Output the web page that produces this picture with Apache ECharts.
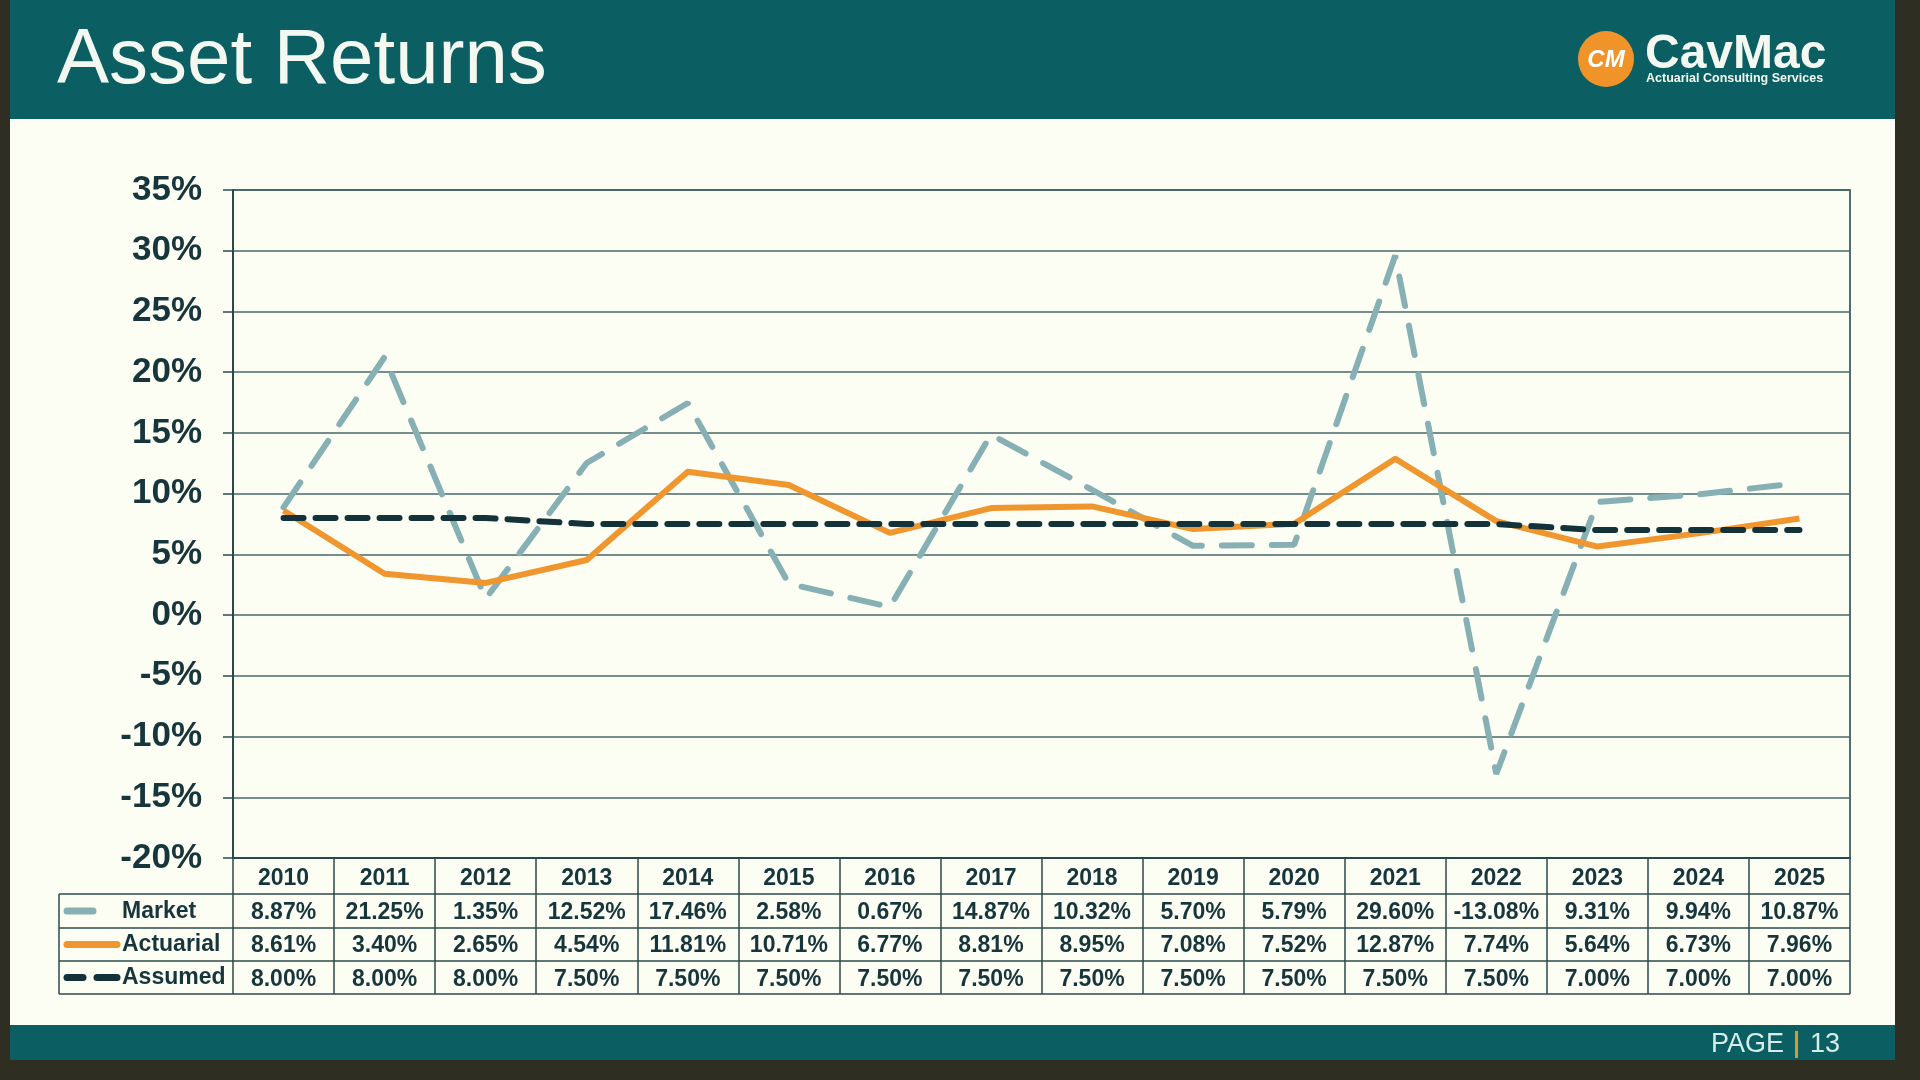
<!DOCTYPE html>
<html>
<head>
    <meta charset="utf-8">
    <title>Asset Returns</title>
    <script src="https://cdn.jsdelivr.net/npm/echarts@6/dist/echarts.min.js"></script>
    <style>
        html, body { margin: 0; padding: 0; background: #2f2e22; }
    </style>
</head>
<body>
<div id="chart-container" style="width: 1920px; height: 1080px;"></div>
<script>
    // data
    var years = ['2010', '2011', '2012', '2013', '2014', '2015', '2016', '2017',
                 '2018', '2019', '2020', '2021', '2022', '2023', '2024', '2025'];
    var market = [8.87, 21.25, 1.35, 12.52, 17.46, 2.58, 0.67, 14.87,
                  10.32, 5.70, 5.79, 29.60, -13.08, 9.31, 9.94, 10.87];
    var actuarial = [8.61, 3.40, 2.65, 4.54, 11.81, 10.71, 6.77, 8.81,
                     8.95, 7.08, 7.52, 12.87, 7.74, 5.64, 6.73, 7.96];
    var assumed = [8.00, 8.00, 8.00, 7.50, 7.50, 7.50, 7.50, 7.50,
                   7.50, 7.50, 7.50, 7.50, 7.50, 7.00, 7.00, 7.00];
    var seriesNames = ['Market', 'Actuarial', 'Assumed'];
    var yMin = -20, yMax = 35, yStep = 5;

    var teal = '#0b5f63';
    var ink = '#17363c';
    var marketColor = '#86b0b3';
    var actuarialColor = '#f0962e';
    var assumedColor = '#14323a';
    var font = '"Liberation Sans", Arial, sans-serif';

    function pct(v) { return v.toFixed(2) + '%'; }

    // table grid and row labels (decoration around the axis)
    var tableLeft = 59, tableRight = 1850;
    var rowLines = [894, 928, 961, 994];
    var rowCenters = [912, 945, 978];

    var graphics = [
        // slide panels
        { type: 'rect', z: -10, shape: { x: 10, y: 0, width: 1885, height: 1060 }, style: { fill: '#fcfdf3' } },
        { type: 'rect', z: -9, shape: { x: 10, y: 0, width: 1885, height: 119 }, style: { fill: teal } },
        { type: 'rect', z: -9, shape: { x: 10, y: 1025, width: 1885, height: 35 }, style: { fill: teal } },
        // title
        { type: 'text', left: 57, top: 22, style: { text: 'Asset Returns', fill: '#f3f8f0', font: '78px ' + font } },
        // logo
        { type: 'circle', shape: { cx: 1606, cy: 59, r: 28 }, style: { fill: '#f0942a' } },
        { type: 'text', x: 1606, y: 60, style: { text: 'CM', fill: '#ffffff', font: 'italic bold 24px ' + font, align: 'center', verticalAlign: 'middle' } },
        { type: 'text', x: 1645, y: 55, style: { text: 'CavMac', fill: '#f3f8f0', font: 'bold 48px ' + font, verticalAlign: 'middle' } },
        { type: 'text', x: 1646, y: 79, style: { text: 'Actuarial Consulting Services', fill: '#f3f8f0', font: 'bold 12.5px ' + font, verticalAlign: 'middle' } },
        // footer
        { type: 'text', x: 1711, y: 1045, style: { text: 'PAGE', fill: '#d5eeea', font: '27px ' + font, verticalAlign: 'middle' } },
        { type: 'rect', shape: { x: 1795, y: 1031, width: 3, height: 27 }, style: { fill: '#d99a2b' } },
        { type: 'text', x: 1810, y: 1045, style: { text: '13', fill: '#d5eeea', font: '27px ' + font, verticalAlign: 'middle' } },
        // table left border
        { type: 'line', shape: { x1: tableLeft, y1: 894, x2: tableLeft, y2: 994 }, style: { stroke: '#2c4a4c', lineWidth: 1.5 } }
    ];
    rowLines.forEach(function (y) {
        graphics.push({ type: 'line', shape: { x1: tableLeft, y1: y, x2: tableRight, y2: y }, style: { stroke: '#2c4a4c', lineWidth: 1.5 } });
    });
    seriesNames.forEach(function (name, i) {
        graphics.push({ type: 'text', x: 122, y: rowCenters[i], style: { text: name, fill: ink, font: 'bold 23px ' + font, verticalAlign: 'middle' } });
    });
    // legend keys inside the label column
    graphics.push({ type: 'line', shape: { x1: 67, y1: 911, x2: 93, y2: 911 }, style: { stroke: marketColor, lineWidth: 7, lineCap: 'round' } });
    graphics.push({ type: 'line', shape: { x1: 67, y1: 944.5, x2: 117, y2: 944.5 }, style: { stroke: actuarialColor, lineWidth: 7, lineCap: 'round' } });
    graphics.push({ type: 'line', shape: { x1: 67, y1: 977.5, x2: 83, y2: 977.5 }, style: { stroke: assumedColor, lineWidth: 7, lineCap: 'round' } });
    graphics.push({ type: 'line', shape: { x1: 97, y1: 977.5, x2: 117, y2: 977.5 }, style: { stroke: assumedColor, lineWidth: 7, lineCap: 'round' } });

    var option = {
        backgroundColor: '#2f2e22',
        animation: false,
        textStyle: { fontFamily: font },
        graphic: graphics,
        grid: {
            left: 233, top: 190, width: 1617, height: 668,
            show: true, borderColor: '#1f3d40', borderWidth: 1.5
        },
        xAxis: {
            type: 'category',
            data: years,
            boundaryGap: true,
            axisLine: { show: true, onZero: false, lineStyle: { color: '#1f3d40', width: 1.5 } },
            axisTick: { show: true, interval: 0, length: 136, lineStyle: { color: '#2c4a4c', width: 1.5 } },
            axisLabel: {
                interval: 0,
                margin: 4,
                color: ink,
                fontWeight: 'bold',
                fontSize: 23,
                lineHeight: 33.5,
                formatter: function (value, idx) {
                    return [value, pct(market[idx]), pct(actuarial[idx]), pct(assumed[idx])].join('\n');
                }
            }
        },
        yAxis: {
            type: 'value',
            min: yMin, max: yMax, interval: yStep,
            axisLine: { show: true, lineStyle: { color: '#1f3d40', width: 1.5 } },
            axisTick: { show: true, length: 10, lineStyle: { color: '#2c4a4c', width: 1.5 } },
            splitLine: { lineStyle: { color: '#4a6869', width: 1.5 } },
            axisLabel: {
                margin: 31,
                color: ink,
                fontWeight: 'bold',
                fontSize: 35,
                padding: [5, 0, 0, 0],
                formatter: '{value}%'
            }
        },
        series: [
            {
                name: seriesNames[0],
                type: 'line',
                data: market,
                symbol: 'none',
                lineStyle: { color: marketColor, width: 6, type: [30, 20], cap: 'round' }
            },
            {
                name: seriesNames[1],
                type: 'line',
                data: actuarial,
                symbol: 'none',
                lineStyle: { color: actuarialColor, width: 6, join: 'round' }
            },
            {
                name: seriesNames[2],
                type: 'line',
                data: assumed,
                symbol: 'none',
                lineStyle: { color: assumedColor, width: 6, type: [20, 12], cap: 'round' }
            }
        ]
    };

    var chart = echarts.init(document.getElementById('chart-container'));
    chart.setOption(option);
</script>
</body>
</html>
